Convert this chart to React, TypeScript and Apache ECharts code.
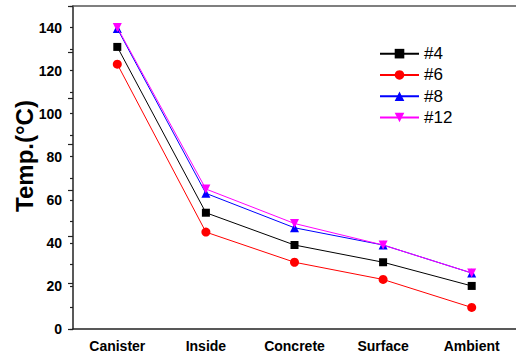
import React, { useEffect, useRef } from "react";
import * as echarts from "echarts";

const categories = ["Canister", "Inside", "Concrete", "Surface", "Ambient"];
const s4 = [131, 54, 39, 31, 20];
const s6 = [123, 45, 31, 23, 10];
const s8 = [139.5, 63, 47, 39, 26];
const s12 = [140, 65, 49, 39, 26];
const seriesNames = ["#4", "#6", "#8", "#12"];
const seriesColors = ["#000000", "#ff0000", "#0000ff", "#ff00ff"];
const seriesSymbols = ["rect", "circle", "triangle", "path://M0,0 L10,0 L5,9 Z"];

const FONT = '"Liberation Sans", Arial, sans-serif';

export default function App() {
  const ref = useRef<HTMLDivElement>(null);
  useEffect(() => {
    if (!ref.current) return;
    const chart = echarts.init(ref.current, null, { renderer: "svg" });
    const data = [s4, s6, s8, s12];
    const axisColor = "#222";
    chart.setOption({
      animation: false,
      backgroundColor: "#fff",
      grid: { left: 73, top: 6, width: 445, height: 323, containLabel: false },
      legend: {
        left: 374,
        top: 38,
        orient: "vertical",
        itemWidth: 39,
        itemHeight: 12,
        itemGap: 0,
        textStyle: { fontFamily: FONT, fontSize: 17, color: "#000", lineHeight: 21.3 },
        data: seriesNames,
      },
      xAxis: [
        {
          type: "category",
          data: categories,
          boundaryGap: true,
          position: "bottom",
          axisLine: { lineStyle: { color: axisColor, width: 1.5 } },
          axisTick: { length: 3, lineStyle: { color: axisColor, width: 1.2 } },
          axisLabel: {
            fontFamily: FONT,
            fontSize: 14,
            fontWeight: "bold",
            color: "#000",
            margin: 10,
          },
          splitLine: { show: false },
        },
        {
          type: "category",
          data: categories,
          boundaryGap: true,
          position: "bottom",
          axisLine: { show: false },
          axisTick: { alignWithLabel: true, length: 5, lineStyle: { color: axisColor, width: 1.2 } },
          axisLabel: { show: false },
          splitLine: { show: false },
        },
        {
          type: "category",
          data: categories,
          position: "top",
          axisLine: { lineStyle: { color: "#555", width: 1.5 } },
          axisTick: { show: false },
          axisLabel: { show: false },
          splitLine: { show: false },
        },
      ],
      yAxis: [
        {
          type: "value",
          min: 0,
          max: 150,
          interval: 10,
          axisLine: { show: true, lineStyle: { color: axisColor, width: 1.5 } },
          axisTick: { show: true, length: 3, lineStyle: { color: axisColor, width: 1.2 } },
          axisLabel: {
            fontFamily: FONT,
            fontSize: 14,
            fontWeight: "bold",
            color: "#000",
            margin: 11,
            formatter: (v: number) => (v % 20 === 0 && v <= 140 ? String(v) : ""),
          },
          splitLine: { show: false },
        },
        {
          type: "value",
          min: 0,
          max: 140,
          interval: 20,
          position: "left",
          axisLine: { show: false },
          axisTick: { show: true, length: 5, lineStyle: { color: axisColor, width: 1.2 } },
          axisLabel: { show: false },
          splitLine: { show: false },
        },
      ],
      graphic: [
        {
          type: "text",
          x: 24,
          y: 156,
          rotation: Math.PI / 2,
          style: {
            text: "Temp.(°C)",
            fontFamily: FONT,
            fontSize: 24,
            fontWeight: "bold",
            fill: "#000",
            textAlign: "center",
            textVerticalAlign: "middle",
          },
        },
      ],
      series: seriesNames.map((name, i) => ({
        name,
        type: "line",
        xAxisIndex: 0,
        yAxisIndex: 0,
        data: data[i],
        symbol: seriesSymbols[i],
        symbolSize: i === 0 ? 8 : 9,
        showAllSymbol: true,
        lineStyle: { color: seriesColors[i], width: 1 },
        itemStyle: { color: seriesColors[i] },
        z: 2 + i,
      })),
    });
    return () => chart.dispose();
  }, []);
  return (
    <div
      ref={ref}
      style={{ position: "fixed", left: 0, top: 0, width: 516, height: 356 }}
    />
  );
}
